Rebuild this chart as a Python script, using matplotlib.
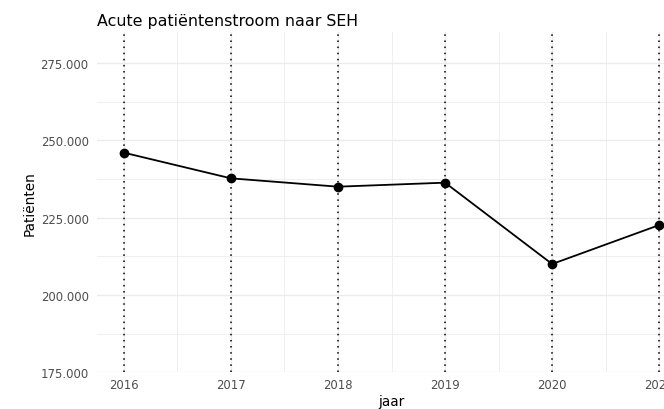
import matplotlib.pyplot as plt
from matplotlib.ticker import FuncFormatter, MultipleLocator

# data
jaar = [2016, 2017, 2018, 2019, 2020, 2021]
patienten = [246000, 237700, 235000, 236300, 210000, 222600]

W, H = 664, 410
fig = plt.figure(figsize=(W / 100, H / 100), dpi=100)
fig.patch.set_facecolor("white")

# panel runs past the right edge, like the cropped original
left, right, top, bottom = 97, 686, 33, 373.3
ax = fig.add_axes([left / W, 1 - bottom / H, (right - left) / W, (bottom - top) / H])

ax.set_xlim(2015.75, 2021.25)
ax.set_ylim(175000, 285000)

ax.xaxis.set_major_locator(MultipleLocator(1))
ax.xaxis.set_minor_locator(MultipleLocator(0.5))
ax.yaxis.set_major_locator(MultipleLocator(25000))
ax.yaxis.set_minor_locator(MultipleLocator(12500))
ax.yaxis.set_major_formatter(FuncFormatter(lambda v, p: f"{int(v):,}".replace(",", ".")))

ax.grid(which="major", color="#ebebeb", linewidth=1.0)
ax.grid(which="minor", color="#ebebeb", linewidth=0.55)
ax.set_axisbelow(True)
for s in ax.spines.values():
    s.set_visible(False)
ax.tick_params(which="both", length=0, labelsize=8.4, labelcolor="#4d4d4d")
ax.tick_params(axis="x", pad=4)
ax.tick_params(axis="y", pad=6)

for j in jaar:
    ax.axvline(j, color="black", linestyle=(0, (1, 3)), linewidth=1.1, zorder=1)

ax.plot(jaar, patienten, color="black", linewidth=1.3, zorder=3)
ax.plot(jaar, patienten, "o", color="black", markersize=6, zorder=4)

ax.set_xlabel("jaar", fontsize=9.8, labelpad=2)
ax.set_ylabel("Patiënten", fontsize=9.8, labelpad=3)
fig.text(left / W, 1 - 26 / H, "Acute patiëntenstroom naar SEH", fontsize=11.4,
         ha="left", va="baseline")

fig.savefig("out.png", dpi=100)
